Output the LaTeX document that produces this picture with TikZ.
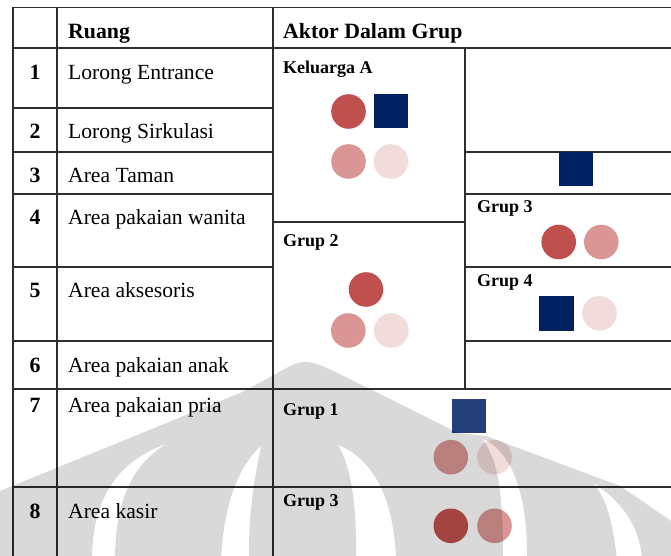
\documentclass[tikz,border=0pt]{standalone}
\usepackage{fontspec}
\setmainfont{Liberation Serif}
\definecolor{linegray}{HTML}{2E2E2E}
\definecolor{darkred}{HTML}{C0504D}
\definecolor{midpink}{HTML}{D99694}
\definecolor{lightpink}{HTML}{F2DCDB}
\definecolor{navy}{HTML}{002060}
\definecolor{steelnavy}{HTML}{243F7A}
\definecolor{wmgray}{HTML}{D9D9D9}
\newcommand\lblfont{\fontsize{21.6bp}{25bp}\selectfont}
\newcommand\hdrfont{\fontsize{21.8bp}{25bp}\selectfont\bfseries}
\newcommand\grpfont{\fontsize{18bp}{21bp}\selectfont\bfseries}
\begin{document}
\begin{tikzpicture}[x=1bp,y=-1bp,
  tline/.style={line width=1.6bp,draw=linegray},
  lbl/.style={anchor=base west,inner sep=0pt,font=\lblfont},
  num/.style={anchor=base,inner sep=0pt,font=\hdrfont},
  hdr/.style={anchor=base west,inner sep=0pt,font=\hdrfont},
  grp/.style={anchor=base west,inner sep=0pt,font=\grpfont},
  dot/.style={circle,inner sep=0pt,minimum size=34.6bp,draw=none},
  sqr/.style={rectangle,inner sep=0pt,minimum size=34bp,draw=none}]
\useasboundingbox (0,0) rectangle (671,556);
\fill[white] (0,0) rectangle (671,556);
\begin{scope}
\clip (0,0) rectangle (671,556);
% table lines
\draw[tline] (13,7.5) -- (680,7.5);
\draw[tline] (13,48) -- (680,48);
\draw[tline] (13,108) -- (273,108);
\draw[tline] (13,152) -- (273,152);
\draw[tline] (465,152) -- (680,152);
\draw[tline] (13,194) -- (273,194);
\draw[tline] (465,194) -- (680,194);
\draw[tline] (273,222) -- (465,222);
\draw[tline] (13,267) -- (273,267);
\draw[tline] (465,267) -- (680,267);
\draw[tline] (13,341) -- (273,341);
\draw[tline] (465,341) -- (680,341);
\draw[tline] (13,389) -- (680,389);
\draw[tline] (13,487) -- (680,487);
\draw[tline] (13,7.5) -- (13,560);
\draw[tline] (57,7.5) -- (57,560);
\draw[tline] (273,7.5) -- (273,560);
\draw[tline] (465,48) -- (465,389);

% header
\node[hdr] (hruang) at (68,38.5) {Ruang};
\node[hdr] (haktor) at (283,38.5) {Aktor Dalam Grup};
% numbers
\node[num] (n1) at (35,79.5) {1};
\node[num] (n2) at (35,139) {2};
\node[num] (n3) at (35,183) {3};
\node[num] (n4) at (35,225) {4};
\node[num] (n5) at (35,297) {5};
\node[num] (n6) at (35,372) {6};
\node[num] (n7) at (35,412) {7};
\node[num] (n8) at (35,518) {8};
% room labels
\node[lbl] (r1) at (68,79.5) {Lorong Entrance};
\node[lbl] (r2) at (68,139) {Lorong Sirkulasi};
\node[lbl] (r3) at (68,183) {Area Taman};
\node[lbl] (r4) at (68,225) {Area pakaian wanita};
\node[lbl] (r5) at (68,297) {Area aksesoris};
\node[lbl] (r6) at (68,372) {Area pakaian anak};
\node[lbl] (r7) at (68,412) {Area pakaian pria};
\node[lbl] (r8) at (68,518) {Area kasir};
% group labels
\node[grp] (gka) at (283,74) {Keluarga A};
\node[grp] (gg2) at (283,247) {Grup 2};
\node[grp] (gg3a) at (477,213) {Grup 3};
\node[grp] (gg4) at (477,286) {Grup 4};
\node[grp] (gg1) at (283,415) {Grup 1};
\node[grp] (gg3b) at (283,506) {Grup 3};

% Keluarga A
\node[dot,fill=darkred] (ka1) at (348.5,111.5) {};
\node[sqr,fill=navy] (ka2) at (391,111) {};
\node[dot,fill=midpink] (ka3) at (348.5,161.5) {};
\node[dot,fill=lightpink] (ka4) at (391,161.5) {};
% row 3 right
\node[sqr,fill=navy] (t3) at (576,169.5) {};
% Grup 2
\node[dot,fill=darkred] (g21) at (366,289.5) {};
\node[dot,fill=midpink] (g22) at (348.3,330.5) {};
\node[dot,fill=lightpink] (g23) at (391.3,330.5) {};
% Grup 3 (row 4)
\node[dot,fill=darkred] (g31) at (558.7,242) {};
\node[dot,fill=midpink] (g32) at (601.3,242) {};
% Grup 4
\node[sqr,fill=navy,minimum size=35bp] (g41) at (556,313) {};
\node[dot,fill=lightpink] (g42) at (599.5,313.3) {};
% Grup 1 (row 7)
\node[sqr,fill=steelnavy] (g11) at (468.5,416) {};
\node[dot,fill=midpink] (g12) at (450.8,457.2) {};
\node[dot,fill=lightpink] (g13) at (494.5,457.2) {};
% Grup 3 (row 8)
\node[dot,fill=darkred] (g3b1) at (450.8,525.8) {};
\node[dot,fill=midpink] (g3b2) at (494.5,525.8) {};

% watermark
\begin{scope}[blend mode=multiply]
\fill[wmgray, even odd rule]
 (-5,493) -- (240,393) .. controls (280,373) and (292,362) .. (305,362)
   .. controls (320,362) and (340,375) .. (372,390) -- (458,433) -- (486,436)
   -- (620,486) -- (680,527) -- (680,560) -- (-5,560) -- cycle
 (92,560) .. controls (92,500) and (116,462) .. (166,444)
   .. controls (130,466) and (115,505) .. (115,560) -- cycle
 (221,560) .. controls (224,500) and (240,465) .. (261,446)
   .. controls (256,472) and (248,510) .. (249,560) -- cycle
 (338,445) .. controls (352,468) and (357,510) .. (356,560) -- (396,560)
   .. controls (394,497) and (372,458) .. (338,445) -- cycle
 (503,560) .. controls (503,500) and (500,462) .. (482,438.5)
   .. controls (514,452) and (528,500) .. (527,560) -- cycle
 (617,560) .. controls (613,522) and (606,497) .. (593,483)
   .. controls (616,497) and (640,522) .. (642,560) -- cycle;
\end{scope}
\end{scope}
\end{tikzpicture}
\end{document}
